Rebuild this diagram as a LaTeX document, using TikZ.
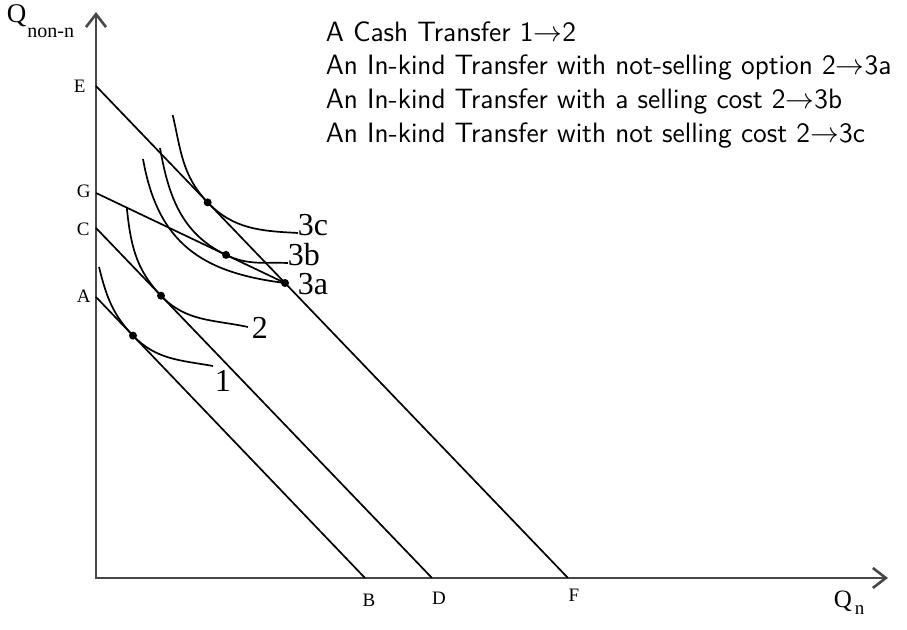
\documentclass[tikz,border=0pt]{standalone}
\usepackage{fontspec}
\setmainfont{Liberation Serif}
\usetikzlibrary{arrows.meta,calc}
\begin{document}
\begin{tikzpicture}[x=0.5pt, y=0.5pt, line width=0.85pt,
  axis/.style={line width=1.3pt, black!72, {Straight Barb[length=6.5pt,width=10pt]}-{Straight Barb[length=6.5pt,width=10pt]}},
  axl/.style={font=\fontsize{9.5}{11}\selectfont, inner sep=0pt},
  crv/.style={font=\fontsize{16}{18}\selectfont, anchor=base west, inner sep=0pt},
  txt/.style={font=\sffamily\fontsize{14}{16}\selectfont, anchor=base west, inner sep=0pt}]
  \useasboundingbox (-96,-52) rectangle (811,578);
  % axes, origin at the corner
  \coordinate (O) at (0,0); \coordinate (yt) at (0,566); \coordinate (xt) at (792,0);
  \draw[axis] (yt) -- (O) -- (xt);
  \node[anchor=base west, inner sep=0pt, font=\fontsize{13.5}{16}\selectfont] (qy) at (-90,555) {Q\kern0.5pt\raisebox{-7.5pt}{\fontsize{10}{10}\selectfont non-n}};
  \node[anchor=base west, inner sep=0pt, font=\fontsize{12.5}{14}\selectfont] (qx) at (737,-30) {Q\kern1.5pt\raisebox{-3.5pt}{\fontsize{9.5}{10}\selectfont n}};
  % budget lines
  \coordinate (A) at (0,281); \coordinate (B) at (269,0);
  \coordinate (C) at (0,350); \coordinate (D) at (336,0);
  \coordinate (E) at (0,492); \coordinate (F) at (472,0);
  \coordinate (G) at (0,385); \coordinate (p3a) at ($(E)!0.4004!(F)$);
  \draw (A) -- (B); \draw (C) -- (D); \draw (E) -- (F); \draw (G) -- (p3a);
  \node[axl, anchor=west] (lE) at (-23,492) {E}; \node[axl, anchor=west] (lG) at (-20,387) {G};
  \node[axl, anchor=west] (lC) at (-20,349) {C}; \node[axl, anchor=west] (lA) at (-20,282) {A};
  \node[axl] (lB) at (273,-22) {B}; \node[axl] (lD) at (343,-20) {D}; \node[axl] (lF) at (478,-17) {F};
  % tangency points
  \coordinate (t1) at ($(A)!0.1375!(B)$); \coordinate (t2) at ($(C)!0.1935!(D)$);
  \coordinate (t3b) at ($(G)!0.688!(p3a)$); \coordinate (t3c) at ($(E)!0.2366!(F)$);
  % indifference curves
  \coordinate (s1) at (3,311); \coordinate (e1) at (117,212);
  \coordinate (s2) at (30.7,371); \coordinate (e2) at (152,251);
  \coordinate (s3a) at (47,419);
  \coordinate (s3b) at (64,430); \coordinate (e3b) at (192,315);
  \coordinate (s3c) at (76.7,463); \coordinate (e3c) at (202,345);
  \draw (s1) to[out=-76,in=133.8] (t1) to[out=-46.2,in=170] (e1);
  \draw (s2) to[out=-84,in=133.8] (t2) to[out=-46.2,in=168] (e2);
  \draw (s3a) to[out=-80,in=173,looseness=1.15] (p3a);
  \draw (s3b) to[out=-80,in=154.5] (t3b) to[out=-25.5,in=178] (e3b);
  \draw (s3c) to[out=-77,in=133.8] (t3c) to[out=-46.2,in=177] (e3c);
  \foreach \p in {t1,t2,t3b,t3c,p3a} \fill (\p) circle (2pt);
  \node[crv] (l1) at ([shift={(1,-26)}]e1) {1};
  \node[crv] (l2) at ([shift={(3,-12)}]e2) {2};
  \node[crv] (l3a) at ([shift={(12,-12)}]p3a) {3a};
  \node[crv] (l3b) at ([shift={(-1,-3)}]e3b) {3b};
  \node[crv] (l3c) at ([shift={(-1,-3)}]e3c) {3c};
  % legend
  \node[txt] (t1l) at (229,536) {A Cash Transfer 1$\rightarrow$2};
  \node[txt] (t2l) at (229,503) {An In-kind Transfer with not-selling option 2$\rightarrow$3a};
  \node[txt] (t3l) at (229,469) {An In-kind Transfer with a selling cost 2$\rightarrow$3b};
  \node[txt] (t4l) at (229,435) {An In-kind Transfer with not selling cost 2$\rightarrow$3c};
\end{tikzpicture}
\end{document}
